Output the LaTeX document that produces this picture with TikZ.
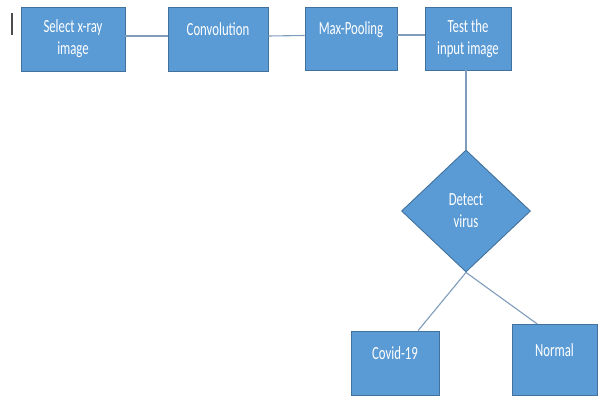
\documentclass[tikz,border=0pt]{standalone}
\usepackage{fontspec}
\setmainfont[FakeStretch=0.69]{Carlito}
\usetikzlibrary{shapes.geometric,calc}
\definecolor{boxfill}{HTML}{5B9BD5}
\definecolor{boxline}{HTML}{41719C}
\definecolor{wirecol}{HTML}{7F9CBB}
\begin{document}
\begin{tikzpicture}[x=1pt,y=-1pt,
  box/.style={draw=boxline, line width=0.9pt, fill=boxfill, text=white,
    font=\fontsize{18.5}{22}\selectfont, align=center, inner sep=0pt},
  oneline/.style={text height=6pt, text depth=13pt},
  wire/.style={draw=wirecol, line width=1.1pt}]
\useasboundingbox (0,0) rectangle (598,396);
\fill[white] (0,0) rectangle (598,396);
% stray cursor mark
\draw[line width=1.2pt, black!70] (12,13) -- (12,35);
% boxes
\node[box, minimum width=104pt, minimum height=64pt] (sel) at (73,39) {Select x-ray\\image};
\node[box, oneline, minimum width=100pt, minimum height=64pt] (conv) at (218,39) {Convolution};
\node[box, oneline, minimum width=92pt, minimum height=63pt] (pool) at (351,38.5) {Max-Pooling};
\node[box, minimum width=86pt, minimum height=63pt] (test) at (468,38.5) {Test the\\input image};
\node[box, diamond, minimum width=129pt, minimum height=122pt] (det) at (466,211) {\raisebox{-2pt}{Detect}\\\raisebox{-2pt}{virus}};
\node[box, oneline, minimum width=88pt, minimum height=64pt] (covid) at (395,363) {Covid-19};
\node[box, oneline, minimum width=85pt, minimum height=71pt] (normal) at (554.5,360) {Normal};
% connectors
\draw[wire] ([yshift=3pt]sel.east) -- ([yshift=3pt]conv.west);
\draw[wire] ([yshift=3pt]conv.east) -- ([yshift=3pt]pool.west);
\draw[wire] ([yshift=3.5pt]pool.east) -- ([yshift=3.5pt]test.west);
\draw[wire] (det.north |- test.south) -- (det.north);
\draw[wire] (det.south) -- ($(covid.north west)!0.76!(covid.north east)$);
\draw[wire] (det.south) -- ($(normal.north west)!0.3!(normal.north east)$);
\end{tikzpicture}
\end{document}
